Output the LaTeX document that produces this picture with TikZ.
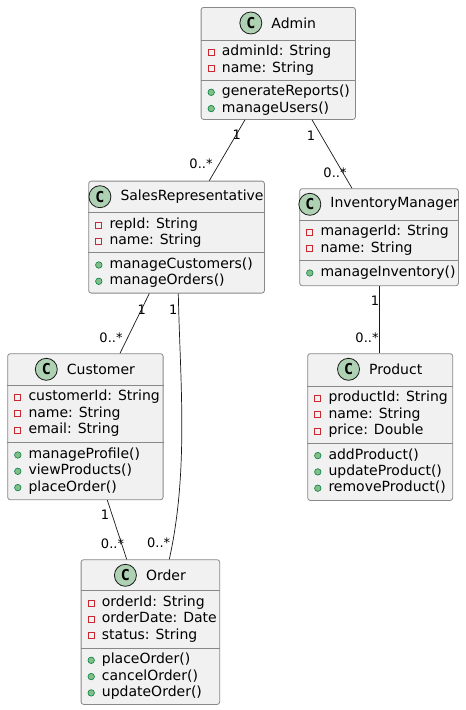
\documentclass[tikz,border=0pt]{standalone}
\usepackage{fontspec}
\setmainfont{DejaVu Sans}
\newfontfamily\spotfont{DejaVu Sans Mono}
\usetikzlibrary{positioning,calc}

\definecolor{boxfill}{HTML}{F1F1F1}
\definecolor{boxline}{HTML}{888888}
\definecolor{darkline}{HTML}{181818}
\definecolor{spotfill}{HTML}{ADD1B2}
\definecolor{privred}{HTML}{C82930}
\definecolor{pubfill}{HTML}{84BE84}
\definecolor{publine}{HTML}{038048}

\tikzset{
  classbox/.style={draw=boxline, fill=boxfill, line width=0.8pt, rounded corners=2.5pt, anchor=north west, inner sep=0pt},
  classname/.style={font=\fontsize{14}{16}\selectfont, inner sep=0pt},
  spot/.style={circle, draw=darkline, fill=spotfill, line width=0.8pt, minimum size=22pt, inner sep=0pt, font=\spotfont\bfseries\fontsize{15}{15}\selectfont},
  sepline/.style={draw=boxline, line width=0.8pt},
  member/.style={font=\fontsize{14}{16}\selectfont, inner sep=0pt, anchor=west, text height=10.5pt, text depth=3.5pt},
  priv/.style={rectangle, draw=privred, line width=0.8pt, minimum size=6pt, inner sep=0pt},
  pub/.style={circle, draw=publine, fill=pubfill, line width=0.6pt, minimum size=6.5pt, inner sep=0pt},
  assoc/.style={draw=darkline, line width=0.7pt},
  mult/.style={font=\fontsize{13}{15}\selectfont, inner sep=0pt}
}

% header: spot circle + class name, centred in the box
\newcommand{\classhead}[3]{%
  \node[classname] (#2) at ($(#1.north)+(15.5,16)$) {#3};
  \node[spot, left=9pt of #2] (#2-spot) {C};
}
% one compartment of attributes or operations
\newcommand{\members}[5]{%
  \foreach \t [count=\i from 0] in {#5} {
    \node[#4] (#1-\i-icon) at ({#2+10.5},{#3+16.3*\i}) {};
    \node[member] (#1-\i) at ({#2+21},{#3+16.3*\i}) {\t};
  }
}

\begin{document}
\begin{tikzpicture}[x=1pt, y=-1pt]
  \path[fill=white] (0,0) rectangle (466,710);

  % classes
  \node[classbox, minimum width=154.3pt, minimum height=112pt] (admin) at (200.7,7) {};
  \node[classbox, minimum width=175.7pt, minimum height=112pt] (salesrep) at (88.3,180.7) {};
  \node[classbox, minimum width=158.7pt, minimum height=97pt] (invmgr) at (299.3,188.3) {};
  \node[classbox, minimum width=145pt, minimum height=146.7pt] (product) at (307.3,353.3) {};
  \node[classbox, minimum width=155.4pt, minimum height=146pt] (customer) at (7.3,353.3) {};
  \node[classbox, minimum width=138.6pt, minimum height=144.7pt] (order) at (80.7,559.3) {};

  \classhead{admin}{admin-title}{Admin}
  \classhead{salesrep}{salesrep-title}{SalesRepresentative}
  \classhead{invmgr}{invmgr-title}{InventoryManager}
  \classhead{product}{product-title}{Product}
  \classhead{customer}{customer-title}{Customer}
  \classhead{order}{order-title}{Order}

  \foreach \b/\y in {admin/40, admin/80, salesrep/212.7, salesrep/252.7,
                     invmgr/220, invmgr/260.7, product/386, product/443.3,
                     customer/385, customer/442.7, order/590.7, order/648}
    \draw[sepline] (\b.west |- 0,\y) -- (\b.east |- 0,\y);

  \members{admin-a}{200.7}{52.3}{priv}{adminId: String, name: String}
  \members{admin-m}{200.7}{92.3}{pub}{generateReports(), manageUsers()}
  \members{salesrep-a}{88.3}{225}{priv}{repId: String, name: String}
  \members{salesrep-m}{88.3}{265}{pub}{manageCustomers(), manageOrders()}
  \members{invmgr-a}{299.3}{232.3}{priv}{managerId: String, name: String}
  \members{invmgr-m}{299.3}{273}{pub}{manageInventory()}
  \members{product-a}{307.3}{398.3}{priv}{productId: String, name: String, price: Double}
  \members{product-m}{307.3}{455.6}{pub}{addProduct(), updateProduct(), removeProduct()}
  \members{customer-a}{7.3}{397.3}{priv}{customerId: String, name: String, email: String}
  \members{customer-m}{7.3}{455}{pub}{manageProfile(), viewProducts(), placeOrder()}
  \members{order-a}{80.7}{603}{priv}{orderId: String, orderDate: Date, status: String}
  \members{order-m}{80.7}{660.3}{pub}{placeOrder(), cancelOrder(), updateOrder()}

  % associations
  \draw[assoc] (admin.south -| 245,0) -- (salesrep.north -| 209.3,0);
  \draw[assoc] (admin.south -| 312,0) -- (invmgr.north -| 352,0);
  \draw[assoc] (invmgr.south -| 379.3,0) -- (product.north -| 379.3,0);
  \draw[assoc] (salesrep.south -| 149.3,0) -- (customer.north -| 120,0);
  \draw[assoc] (salesrep.south -| 178.3,0) .. controls (180,380) and (189,470) .. (order.north -| 169.3,0);
  \draw[assoc] (customer.south -| 107.3,0) -- (order.north -| 126.7,0);

  % multiplicities
  \node[mult] (admin-sr-1) at (236.7,135) {1};
  \node[mult] (admin-sr-n) at (201,164) {0..*};
  \node[mult] (admin-im-1) at (311,136) {1};
  \node[mult] (admin-im-n) at (335,173) {0..*};
  \node[mult] (im-pr-1) at (375,300.7) {1};
  \node[mult] (im-pr-n) at (367,337.7) {0..*};
  \node[mult] (sr-cu-1) at (141.7,309.3) {1};
  \node[mult] (sr-cu-n) at (111,337.3) {0..*};
  \node[mult] (sr-or-1) at (173.3,309.3) {1};
  \node[mult] (sr-or-n) at (158.7,542.7) {0..*};
  \node[mult] (cu-or-1) at (105,515) {1};
  \node[mult] (cu-or-n) at (112.5,543.3) {0..*};
\end{tikzpicture}
\end{document}
